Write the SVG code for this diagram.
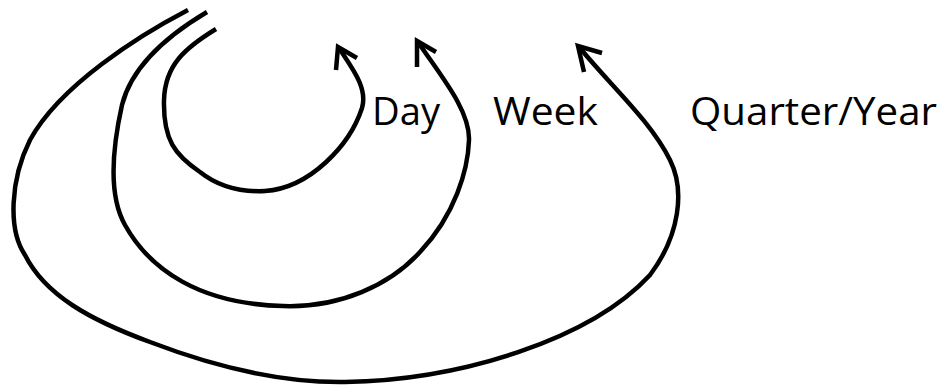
<svg xmlns="http://www.w3.org/2000/svg" width="947" height="385" viewBox="0 0 947 385">
<style>
.c{fill:none;stroke:#000;stroke-width:4.5;stroke-linecap:butt;stroke-linejoin:miter}
.h{fill:none;stroke:#000;stroke-width:4.5;stroke-linejoin:miter;stroke-linecap:butt}
.t{font-family:"Open Sans","Liberation Sans",sans-serif;font-size:39px;fill:#000}
</style>
<rect width="947" height="385" fill="#fff"/>
<g id="connectors">
<path class="c" d="M216,29 C185,48 165,65 164,100 C163,140 175,155 200,172 C220,188 245,192 265,191 C310,188 350,145 362,108 C368,88 352,68 339,48"/>
<path class="h" d="M336,70 L338,47 L357,58"/>
<path class="c" d="M207,12 C170,34 132,65 122,105 C112,150 108,195 125,225 C150,270 200,304 283,306 C340,308 390,285 420,252 C455,215 468,170 469,140 C470,110 440,75 418,42"/>
<path class="h" d="M417,67 L417,41 L436,52"/>
<path class="c" d="M188,10 C140,35 60,85 30,140 C10,180 8,230 25,255 C45,295 90,320 150,342 C210,365 280,383 345,382 C460,380 590,340 650,275 C680,235 685,190 670,160 C650,120 610,85 580,48"/>
<path class="h" d="M584,72 L578,46 L602,53"/>
</g>
<g id="day"><text class="t" x="372" y="125" textLength="68" lengthAdjust="spacingAndGlyphs">Day</text></g>
<g id="week"><text class="t" x="493" y="125" textLength="105" lengthAdjust="spacingAndGlyphs">Week</text></g>
<g id="quarter"><text class="t" x="690" y="125" textLength="247" lengthAdjust="spacingAndGlyphs">Quarter/Year</text></g>
</svg>
